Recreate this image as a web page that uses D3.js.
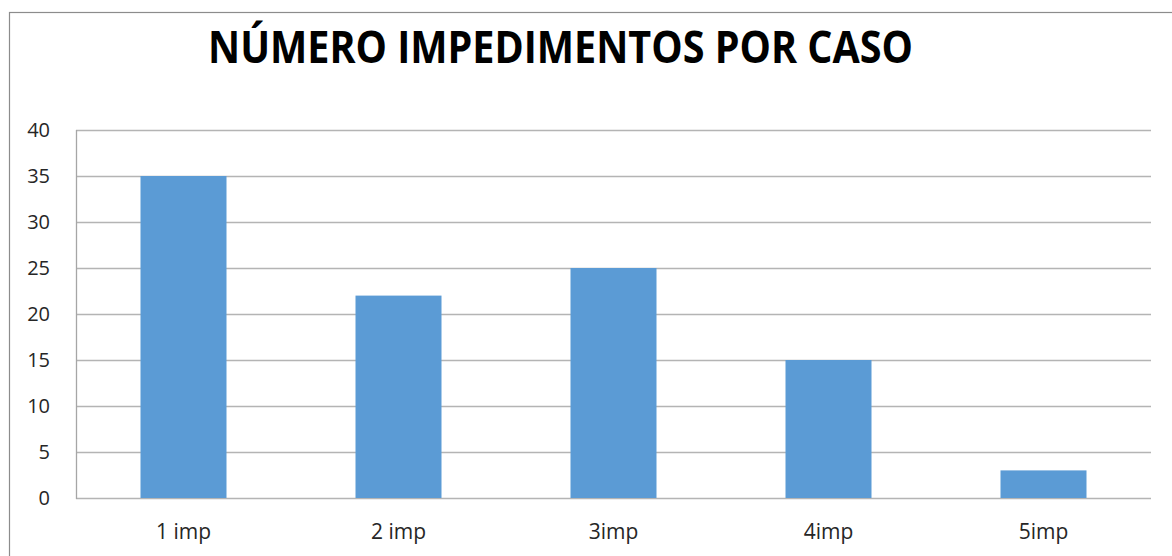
<!DOCTYPE html>
<html>
<head>
<meta charset="utf-8">
<script src="https://cdn.jsdelivr.net/npm/d3@7"></script>
<style>
  html, body { margin: 0; padding: 0; background: #ffffff; }
  svg { display: block; }
</style>
</head>
<body>
<svg id="chart"></svg>
<script>
const categories = ["1 imp", "2 imp", "3imp", "4imp", "5imp"];
const values = [35, 22, 25, 15, 3];
const yTicks = [0, 5, 10, 15, 20, 25, 30, 35, 40];
const title = "NÚMERO IMPEDIMENTOS POR CASO";

const width = 1172;
const height = 556;
const plot = { left: 76, right: 1151, top: 130, bottom: 498 };

const svg = d3.select("#chart")
  .attr("width", width)
  .attr("height", height)
  .style("font-family", "'Open Sans', 'Liberation Sans', sans-serif");

// outer chart frame
svg.append("rect")
  .attr("x", 9.5)
  .attr("y", 12.5)
  .attr("width", width + 20)
  .attr("height", height + 20)
  .attr("fill", "none")
  .attr("stroke", "#8c8c8c")
  .attr("stroke-width", 1.2);

const x = d3.scaleBand()
  .domain(categories)
  .range([plot.left, plot.right])
  .paddingInner(0.6)
  .paddingOuter(0.3);

const y = d3.scaleLinear()
  .domain([0, 40])
  .range([plot.bottom, plot.top]);

// gridlines
svg.append("g")
  .selectAll("line")
  .data(yTicks)
  .join("line")
  .attr("x1", plot.left)
  .attr("x2", plot.right)
  .attr("y1", d => Math.round(y(d)) + 0.5)
  .attr("y2", d => Math.round(y(d)) + 0.5)
  .attr("stroke", "#b4b4b4")
  .attr("stroke-width", 1.3);

// y axis line
svg.append("line")
  .attr("x1", plot.left + 0.5)
  .attr("x2", plot.left + 0.5)
  .attr("y1", plot.top)
  .attr("y2", plot.bottom + 1)
  .attr("stroke", "#a6a6a6")
  .attr("stroke-width", 1.3);

// y tick labels
svg.append("g")
  .selectAll("text")
  .data(yTicks)
  .join("text")
  .attr("x", 50)
  .attr("y", d => y(d) + 7)
  .attr("text-anchor", "end")
  .attr("font-size", "20px")
  .attr("fill", "#262626")
  .text(d => d);

// bars
svg.append("g")
  .selectAll("rect")
  .data(values)
  .join("rect")
  .attr("x", (d, i) => x(categories[i]))
  .attr("y", d => y(d))
  .attr("width", x.bandwidth())
  .attr("height", d => y(0) - y(d))
  .attr("fill", "#5b9bd5");

// x labels
svg.append("g")
  .selectAll("text")
  .data(categories)
  .join("text")
  .attr("x", d => x(d) + x.bandwidth() / 2)
  .attr("y", 539)
  .attr("text-anchor", "middle")
  .attr("font-size", "21px")
  .attr("fill", "#262626")
  .text(d => d);

// title
svg.append("text")
  .attr("x", 208)
  .attr("y", 63)
  .attr("font-size", "44px")
  .attr("font-weight", "bold")
  .attr("fill", "#000000")
  .attr("textLength", 705)
  .attr("lengthAdjust", "spacingAndGlyphs")
  .text(title);
</script>
</body>
</html>
